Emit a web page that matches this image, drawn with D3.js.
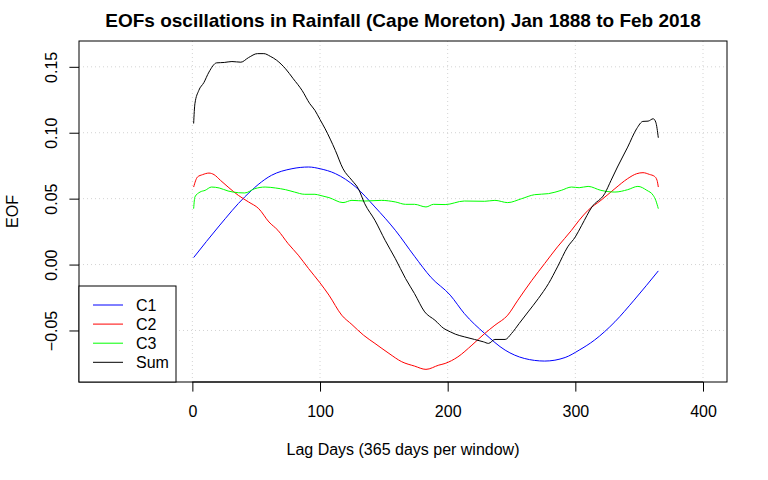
<!DOCTYPE html>
<html>
<head>
<meta charset="utf-8">
<script src="https://cdn.jsdelivr.net/npm/d3@7"></script>
<style>
	body { margin: 0; background: #fff; }
	svg { display: block; font-family: "Liberation Sans", Arial, Helvetica, sans-serif; }
	.grid line { stroke: #d3d3d3; stroke-dasharray: 1 3; }
	.series { fill: none; stroke-width: 1; }
</style>
</head>
<body>
<div id="chart"></div>
<script>
// values (lag day -> EOF)
const c1Days = [1, 21, 41, 62, 78, 91, 100, 112, 128, 143, 159, 174, 187, 202, 213, 229, 245, 260, 276, 292, 303, 315, 331, 346, 365];
const c1Vals = [0.0053, 0.0293, 0.0513, 0.0677, 0.0727, 0.074, 0.0727, 0.069, 0.0588, 0.0437, 0.026, 0.0063, -0.0098, -0.0232, -0.0371, -0.0523, -0.0649, -0.0712, -0.0732, -0.0705, -0.0649, -0.0573, -0.0434, -0.027, -0.0048];

const c2Days = [1, 4, 8, 13, 17, 22, 28, 36, 44, 52, 60, 67, 75, 83, 91, 100, 107, 117, 125, 134, 143, 154, 164, 174, 183, 193, 198, 208, 219, 229, 237, 247, 255, 266, 276, 286, 297, 303, 310, 320, 331, 341, 348, 353, 358, 362, 364, 365];
const c2Vals = [0.0588, 0.0664, 0.0682, 0.0694, 0.0682, 0.0639, 0.0588, 0.0525, 0.0475, 0.0424, 0.0323, 0.026, 0.0159, 0.0071, -0.003, -0.0139, -0.0232, -0.0384, -0.0455, -0.0535, -0.0598, -0.0674, -0.0737, -0.077, -0.0795, -0.0763, -0.075, -0.070, -0.0611, -0.0523, -0.046, -0.0384, -0.027, -0.0119, 0.0008, 0.0134, 0.026, 0.0336, 0.0412, 0.0487, 0.0576, 0.0652, 0.0689, 0.0697, 0.0684, 0.0669, 0.0639, 0.0588];

const c3Days = [1, 2, 6, 10, 15, 21, 28, 36, 41, 49, 57, 65, 73, 80, 88, 96, 100, 107, 118, 125, 135, 148, 159, 167, 174, 183, 189, 198, 213, 229, 237, 247, 258, 268, 279, 289, 297, 303, 310, 320, 331, 341, 349, 356, 361, 363, 365];
const c3Vals = [0.0424, 0.0513, 0.055, 0.0563, 0.0588, 0.0581, 0.0558, 0.0545, 0.0543, 0.0576, 0.0588, 0.0581, 0.0568, 0.055, 0.0533, 0.0533, 0.0525, 0.0508, 0.047, 0.0487, 0.0482, 0.0487, 0.0475, 0.0457, 0.0457, 0.0437, 0.0457, 0.0455, 0.0482, 0.048, 0.0487, 0.047, 0.050, 0.053, 0.0538, 0.0563, 0.0588, 0.0583, 0.0593, 0.0563, 0.055, 0.0568, 0.0593, 0.0563, 0.0525, 0.0487, 0.0424];

const sumDays = [1, 2, 5, 9, 13, 19, 25, 31, 38, 44, 51, 56, 61, 66, 73, 79, 86, 92, 96, 100, 104, 112, 118, 125, 130, 135, 143, 151, 159, 167, 174, 182, 190, 197, 202, 206, 213, 221, 228, 232, 237, 245, 250, 256, 263, 271, 279, 286, 294, 300, 305, 313, 323, 328, 333, 341, 348, 353, 357, 361, 363, 365];
const sumVals = [0.107, 0.122, 0.132, 0.138, 0.146, 0.153, 0.1533, 0.154, 0.1535, 0.157, 0.160, 0.160, 0.158, 0.155, 0.1485, 0.141, 0.132, 0.122, 0.117, 0.110, 0.103, 0.0866, 0.0727, 0.0639, 0.0576, 0.0462, 0.0336, 0.0184, 0.0045, -0.0106, -0.022, -0.0359, -0.0422, -0.0485, -0.051, -0.0528, -0.0548, -0.0568, -0.0586, -0.0598, -0.0568, -0.0568, -0.0523, -0.0447, -0.0359, -0.0258, -0.0144, -0.0018, 0.0134, 0.021, 0.0298, 0.0437, 0.0538, 0.0639, 0.074, 0.0891, 0.103, 0.1086, 0.1088, 0.1106, 0.108, 0.0962];

const seriesNames = ['C1', 'C2', 'C3', 'Sum'];
const seriesColors = ['#0000ff', '#ff0000', '#00ff00', '#000000'];
const xTicks = [0, 100, 200, 300, 400];
const yTicks = [-0.05, 0.00, 0.05, 0.10, 0.15];
const xLimits = [-70, 400];

const titleText = 'EOFs oscillations in Rainfall (Cape Moreton) Jan 1888 to Feb 2018';
const xLabelText = 'Lag Days (365 days per window)';
const yLabelText = 'EOF';

// dimension stuff
const width = 768;
const height = 480;
const marginTop = 41;
const marginBottom = 98;
const marginLeft = 79;
const marginRight = 41;
const tickSize = 9.6;

const series = [
	{ days: c1Days, vals: c1Vals },
	{ days: c2Days, vals: c2Vals },
	{ days: c3Days, vals: c3Vals },
	{ days: sumDays, vals: sumVals }
].map((s, i) => ({
	name: seriesNames[i],
	color: seriesColors[i],
	points: s.days.map((d, j) => ({ x: d, y: s.vals[j] }))
}));

// R-style 4% padding of the axis ranges
function pad(ext) {
	const r = (ext[1] - ext[0]) * 0.04;
	return [ext[0] - r, ext[1] + r];
}

const allVals = [].concat(c1Vals, c2Vals, c3Vals, sumVals);

const scaleX = d3.scaleLinear()
	.domain(pad(xLimits))
	.range([marginLeft, width - marginRight]);

const scaleY = d3.scaleLinear()
	.domain(pad(d3.extent(allVals)))
	.range([height - marginBottom, marginTop]);

const $svg = d3.select('#chart').append('svg')
	.attr('width', width)
	.attr('height', height);

const plotLeft = marginLeft;
const plotRight = width - marginRight;
const plotTop = marginTop;
const plotBottom = height - marginBottom;

// grid
const $grid = $svg.append('g').attr('class', 'grid');
$grid.selectAll('.gx').data(xTicks).enter().append('line')
	.attr('x1', d => scaleX(d)).attr('x2', d => scaleX(d))
	.attr('y1', plotTop).attr('y2', plotBottom);
$grid.selectAll('.gy').data(yTicks).enter().append('line')
	.attr('x1', plotLeft).attr('x2', plotRight)
	.attr('y1', d => scaleY(d)).attr('y2', d => scaleY(d));

// lines
const line = d3.line()
	.x(d => scaleX(d.x))
	.y(d => scaleY(d.y))
	.curve(d3.curveMonotoneX);

$svg.append('g').attr('class', 'g-vis')
	.selectAll('path').data(series).enter().append('path')
	.attr('class', 'series')
	.attr('stroke', d => d.color)
	.attr('d', d => line(d.points));

// axes
const $xAxis = $svg.append('g')
	.attr('transform', `translate(0,${plotBottom})`)
	.call(d3.axisBottom(scaleX).tickValues(xTicks).tickSize(tickSize).tickFormat(d3.format('d')));
$xAxis.select('.domain').remove();
$xAxis.selectAll('.tick text').attr('y', 35).attr('dy', null);
$xAxis.append('line')
	.attr('x1', scaleX(xTicks[0])).attr('x2', scaleX(xTicks[xTicks.length - 1]))
	.attr('stroke', '#000');

const $yAxis = $svg.append('g')
	.attr('transform', `translate(${plotLeft},0)`)
	.call(d3.axisLeft(scaleY).tickValues(yTicks).tickSize(tickSize).tickFormat(d3.format('.2f')));
$yAxis.select('.domain').remove();
$yAxis.selectAll('.tick text')
	.attr('x', null).attr('dy', null)
	.attr('text-anchor', 'middle')
	.attr('transform', 'translate(-22,0) rotate(-90)');

$svg.selectAll('.tick text')
	.attr('fill', '#000')
	.style('font-size', '16px')
	.style('font-family', '"Liberation Sans", Arial, Helvetica, sans-serif');
$svg.selectAll('.tick line').attr('stroke', '#000');

// box
$svg.append('rect')
	.attr('x', plotLeft).attr('y', plotTop)
	.attr('width', plotRight - plotLeft).attr('height', plotBottom - plotTop)
	.attr('fill', 'none').attr('stroke', '#000');

// legend
const $legend = $svg.append('g').attr('class', 'legend');
$legend.append('rect')
	.attr('x', plotLeft).attr('y', 286)
	.attr('width', 97).attr('height', plotBottom - 286)
	.attr('fill', '#fff').attr('stroke', '#000');
const $item = $legend.selectAll('.item').data(series).enter().append('g')
	.attr('transform', (d, i) => `translate(${plotLeft},${305 + i * 19.1})`);
$item.append('line')
	.attr('x1', 14).attr('x2', 44)
	.attr('stroke', d => d.color);
$item.append('text')
	.attr('x', 57).attr('dy', '0.36em')
	.style('font-size', '16px')
	.text(d => d.name);

// labels
$svg.append('text')
	.attr('x', (plotLeft + plotRight) / 2).attr('y', 27)
	.attr('text-anchor', 'middle')
	.style('font-size', '19px').style('font-weight', 'bold')
	.text(titleText);

$svg.append('text')
	.attr('x', (plotLeft + plotRight) / 2).attr('y', 455)
	.attr('text-anchor', 'middle')
	.style('font-size', '16px')
	.text(xLabelText);

$svg.append('text')
	.attr('transform', `translate(18,${(plotTop + plotBottom) / 2}) rotate(-90)`)
	.attr('text-anchor', 'middle')
	.style('font-size', '16px')
	.text(yLabelText);
</script>
</body>
</html>
